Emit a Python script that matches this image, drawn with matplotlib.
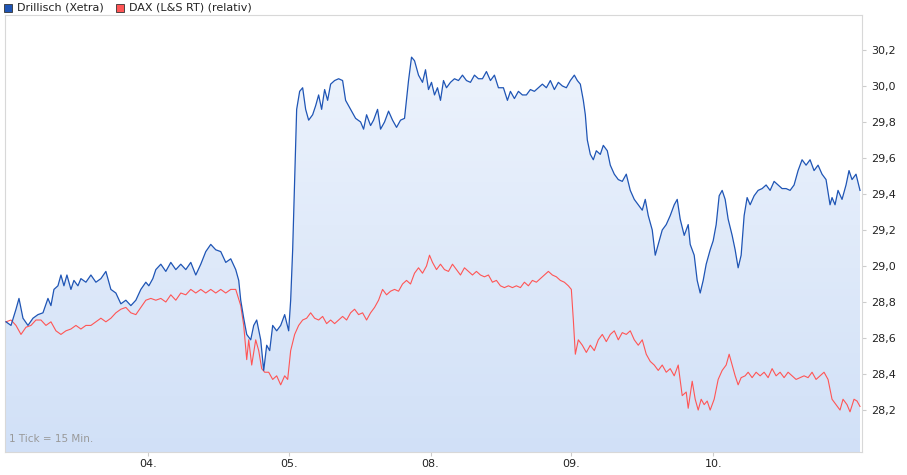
import numpy as np
import matplotlib
matplotlib.use("Agg")
import matplotlib.pyplot as plt
from matplotlib.patches import Polygon, Rectangle

# time in chart units (one trading day = 141.5 units, start at 0)
day_ticks = [142, 283, 425, 566, 708]
day_labels = ["04.", "05.", "08.", "09.", "10."]
y_ticks = [28.2, 28.4, 28.6, 28.8, 29.0, 29.2, 29.4, 29.6, 29.8, 30.0, 30.2]

dr_t = [0,5,10,13,17,22,27,32,37,42,45,48,52,55,58,61,65,68,72,75,80,85,90,95,100,105,110,115,120,125,130,135,140,143,147,150,155,160,165,170,175,180,185,190,195,200,205,210,215,220,225,230,233,235,238,241,245,248,251,255,258,261,264,267,271,275,279,283,285,287,289,291,294,297,300,303,307,310,313,316,319,322,325,329,333,337,340,345,350,355,358,361,365,368,372,375,379,383,387,391,395,399,403,406,409,413,417,420,423,426,429,432,435,438,441,445,449,453,457,461,465,469,473,477,481,485,489,493,498,502,505,509,513,517,521,525,529,533,537,541,545,549,553,557,561,565,569,572,575,578,580,582,585,588,591,595,598,602,605,609,613,617,621,625,629,633,637,640,643,647,650,653,657,661,665,669,672,675,679,683,685,689,692,695,698,701,705,708,711,714,717,720,723,727,730,733,736,739,742,745,749,753,757,761,765,769,773,777,781,785,789,793,797,801,805,809,813,817,821,825,827,830,833,837,841,844,847,851,855]
dr_v = [28.69,28.67,28.76,28.82,28.71,28.67,28.71,28.73,28.74,28.82,28.78,28.87,28.89,28.95,28.89,28.95,28.87,28.92,28.89,28.93,28.91,28.95,28.91,28.93,28.97,28.87,28.85,28.79,28.81,28.78,28.81,28.87,28.91,28.89,28.93,28.98,29.01,28.97,29.02,28.98,29.01,28.98,29.02,28.95,29.01,29.08,29.12,29.09,29.08,29.02,29.04,28.98,28.92,28.81,28.71,28.62,28.59,28.67,28.70,28.59,28.42,28.56,28.53,28.67,28.64,28.67,28.73,28.64,28.81,29.09,29.48,29.87,29.97,29.99,29.87,29.81,29.84,29.89,29.95,29.87,29.98,29.92,30.01,30.03,30.04,30.03,29.92,29.87,29.82,29.80,29.76,29.84,29.78,29.81,29.87,29.76,29.80,29.86,29.81,29.77,29.81,29.82,30.03,30.16,30.14,30.06,30.02,30.09,29.98,30.02,29.95,29.99,29.92,30.03,29.99,30.02,30.04,30.03,30.06,30.03,30.02,30.06,30.04,30.04,30.08,30.03,30.06,29.99,29.99,29.92,29.97,29.93,29.97,29.95,29.95,29.98,29.97,29.99,30.01,29.99,30.03,29.98,30.02,30.00,29.99,30.03,30.06,30.03,30.01,29.92,29.84,29.70,29.62,29.59,29.64,29.62,29.67,29.64,29.56,29.51,29.48,29.47,29.51,29.42,29.37,29.34,29.31,29.37,29.28,29.20,29.06,29.12,29.20,29.23,29.28,29.34,29.37,29.26,29.17,29.23,29.12,29.06,28.92,28.85,28.92,29.01,29.09,29.14,29.23,29.39,29.42,29.37,29.26,29.17,29.09,28.99,29.06,29.28,29.38,29.34,29.39,29.42,29.43,29.45,29.42,29.47,29.45,29.43,29.43,29.42,29.45,29.53,29.59,29.56,29.59,29.53,29.56,29.51,29.48,29.34,29.38,29.34,29.42,29.37,29.45,29.53,29.48,29.51,29.42]

dax_t = [0,5,10,15,20,25,30,35,40,45,50,55,60,65,70,75,80,85,90,95,100,105,110,115,120,125,130,135,140,145,150,155,160,165,170,175,180,185,190,195,200,205,210,215,220,225,230,235,238,241,243,246,250,253,256,259,263,267,271,275,279,282,285,289,293,297,301,305,309,313,317,321,325,329,333,337,341,345,349,353,357,361,365,369,373,377,381,385,389,393,397,401,405,409,413,417,421,424,427,431,435,439,443,447,451,455,459,463,467,471,475,479,483,487,491,495,499,503,507,511,515,519,523,527,531,535,539,543,547,551,555,559,563,566,568,570,573,577,581,585,589,593,597,601,605,609,613,617,621,625,629,633,637,641,645,649,653,657,661,665,669,673,677,681,683,687,690,693,696,699,702,705,709,713,717,721,724,727,730,733,736,740,743,747,751,755,759,763,767,771,775,779,783,787,791,795,799,803,807,811,815,819,823,827,831,835,838,842,845,849,852,855]
dax_v = [28.69,28.70,28.67,28.62,28.66,28.67,28.70,28.70,28.67,28.69,28.64,28.62,28.64,28.65,28.67,28.65,28.67,28.67,28.69,28.71,28.69,28.71,28.74,28.76,28.77,28.74,28.73,28.77,28.81,28.82,28.81,28.82,28.80,28.84,28.81,28.85,28.84,28.87,28.85,28.87,28.85,28.87,28.85,28.87,28.85,28.87,28.87,28.78,28.67,28.48,28.59,28.45,28.59,28.53,28.43,28.41,28.41,28.37,28.39,28.34,28.39,28.37,28.53,28.62,28.67,28.70,28.71,28.74,28.71,28.70,28.72,28.68,28.70,28.68,28.70,28.72,28.70,28.74,28.76,28.73,28.74,28.70,28.74,28.77,28.81,28.87,28.84,28.86,28.87,28.86,28.90,28.92,28.90,28.96,28.99,28.96,29.00,29.06,29.02,28.98,29.01,28.98,28.97,29.01,28.98,28.95,28.99,28.97,28.95,28.97,28.95,28.94,28.95,28.91,28.92,28.89,28.88,28.89,28.88,28.89,28.88,28.91,28.89,28.92,28.91,28.93,28.95,28.97,28.95,28.94,28.92,28.91,28.89,28.87,28.70,28.51,28.59,28.56,28.52,28.56,28.53,28.59,28.62,28.58,28.62,28.64,28.59,28.63,28.62,28.64,28.59,28.56,28.59,28.51,28.47,28.45,28.42,28.45,28.41,28.43,28.39,28.45,28.28,28.30,28.21,28.36,28.26,28.20,28.26,28.23,28.25,28.20,28.26,28.37,28.42,28.45,28.51,28.45,28.39,28.34,28.38,28.39,28.41,28.38,28.41,28.39,28.41,28.38,28.43,28.39,28.41,28.38,28.41,28.39,28.37,28.38,28.39,28.38,28.41,28.37,28.39,28.41,28.37,28.26,28.23,28.20,28.26,28.23,28.19,28.26,28.25,28.22]

blue = "#1f55b5"
red = "#ff5555"

fig = plt.figure(figsize=(9.07, 4.75), dpi=100)
ax = fig.add_axes([5/907, 23/475, 857/907, 437/475])
x0, x1 = -1, 857
y0, y1 = 27.967, 30.394
ax.set_xlim(x0, x1)
ax.set_ylim(y0, y1)

# gradient fill under Drillisch line
grad = np.linspace(0, 1, 256).reshape(-1, 1)
c_top = np.array([0.94, 0.96, 0.99])
c_bot = np.array([0.82, 0.88, 0.97])
img = c_top + (c_bot - c_top) * grad
im = ax.imshow(img[:, None, :].repeat(2, axis=1), extent=[x0, x1, y0, y1],
               aspect="auto", origin="upper", zorder=1)
poly = Polygon(list(zip(dr_t, dr_v)) + [(dr_t[-1], y0), (dr_t[0], y0)],
               closed=True, transform=ax.transData, facecolor="none", edgecolor="none")
ax.add_patch(poly)
im.set_clip_path(poly)

ax.plot(dax_t, dax_v, color=red, lw=0.8, zorder=3)
ax.plot(dr_t, dr_v, color=blue, lw=0.9, zorder=4)

ax.set_xticks(day_ticks)
ax.set_xticklabels(day_labels)
ax.set_yticks(y_ticks)
ax.set_yticklabels([f"{v:.1f}".replace(".", ",") for v in y_ticks])
ax.yaxis.tick_right()
ax.tick_params(axis="both", labelsize=8, length=3, color="#cccccc", labelcolor="#222222")
ax.tick_params(axis="x", pad=2)
for s in ax.spines.values():
    s.set_color("#d8d8d8")

ax.text(3, 28.02, "1 Tick = 15 Min.", fontsize=7.5, color="#999999", zorder=5)

# legend
fig.patches.append(Rectangle((4/907, 1 - 12/475), 8/907, 8/475, transform=fig.transFigure,
                             facecolor=blue, edgecolor="#333333", lw=0.6))
fig.text(17/907, 1 - 8/475, "Drillisch (Xetra)", fontsize=8, va="center", color="#222222")
fig.patches.append(Rectangle((116/907, 1 - 12/475), 8/907, 8/475, transform=fig.transFigure,
                             facecolor=red, edgecolor="#333333", lw=0.6))
fig.text(129/907, 1 - 8/475, "DAX (L&S RT) (relativ)", fontsize=8, va="center", color="#222222")

fig.savefig("out.png", dpi=100)
